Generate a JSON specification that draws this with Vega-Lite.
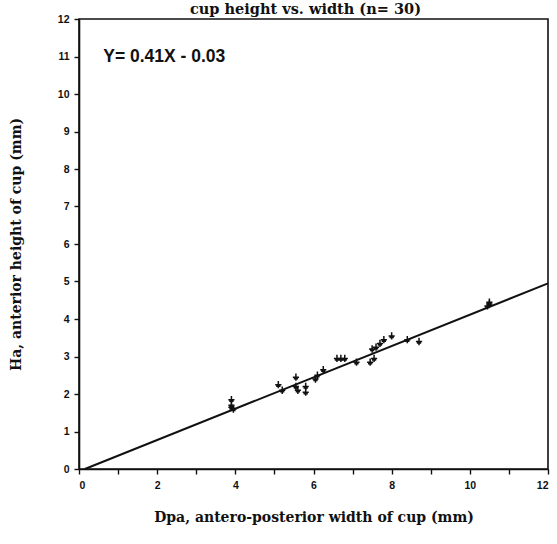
{
  "$schema": "https://vega.github.io/schema/vega-lite/v6.json",
  "width": 469,
  "height": 450,
  "autosize": {"type": "none"},
  "padding": {"left": 79, "top": 19, "right": 9, "bottom": 75},
  "background": "white",
  "title": {
    "text": "cup height vs. width (n= 30)",
    "font": "DejaVu Serif",
    "fontSize": 14.5,
    "fontWeight": "bold",
    "anchor": "middle",
    "dx": -8,
    "dy": 14.5,
    "offset": 0,
    "baseline": "alphabetic",
    "color": "#111"
  },
  "config": {
    "view": {"stroke": "#111", "strokeWidth": 1.6},
    "axis": {
      "grid": false,
      "domainColor": "#111",
      "domainWidth": 1.6,
      "tickColor": "#111",
      "tickWidth": 1.4,
      "tickSize": 5,
      "labelFont": "Liberation Sans",
      "labelFontWeight": "bold",
      "labelFontSize": 10.5,
      "labelColor": "#111",
      "labelOverlap": false,
      "titleFont": "DejaVu Serif",
      "titleFontWeight": "bold",
      "titleFontSize": 14,
      "titleColor": "#111"
    }
  },
  "encoding": {
    "x": {
      "field": "Dpa", "type": "quantitative",
      "scale": {"domain": [0, 12], "nice": false, "zero": true},
      "axis": {
        "title": "Dpa,  antero-posterior width of cup (mm)",
        "values": [0,1,2,3,4,5,6,7,8,9,10,11,12],
        "labelExpr": "datum.value % 2 == 0 ? datum.label : ''",
        "labelOverlap": false,
        "labelPadding": 6,
        "titlePadding": 20
      }
    },
    "y": {
      "field": "Ha", "type": "quantitative",
      "scale": {"domain": [0, 12], "nice": false},
      "axis": {
        "title": "Ha, anterior height of cup (mm)",
        "values": [0,1,2,3,4,5,6,7,8,9,10,11,12],
        "labelOverlap": false,
        "labelPadding": 5,
        "titlePadding": 34
      }
    }
  },
  "layer": [
    {
      "data": {"values": [
        {"Dpa": 3.9, "Ha": 1.85}, {"Dpa": 3.9, "Ha": 1.65}, {"Dpa": 3.95, "Ha": 1.6}, {"Dpa": 3.9, "Ha": 1.7},
        {"Dpa": 5.1, "Ha": 2.25}, {"Dpa": 5.2, "Ha": 2.1}, {"Dpa": 5.55, "Ha": 2.45}, {"Dpa": 5.55, "Ha": 2.2},
        {"Dpa": 5.6, "Ha": 2.1}, {"Dpa": 5.8, "Ha": 2.2}, {"Dpa": 5.8, "Ha": 2.05}, {"Dpa": 6.05, "Ha": 2.4},
        {"Dpa": 6.1, "Ha": 2.5}, {"Dpa": 6.25, "Ha": 2.65}, {"Dpa": 6.6, "Ha": 2.95}, {"Dpa": 6.7, "Ha": 2.95},
        {"Dpa": 6.8, "Ha": 2.95}, {"Dpa": 7.1, "Ha": 2.85}, {"Dpa": 7.45, "Ha": 2.85}, {"Dpa": 7.55, "Ha": 2.95},
        {"Dpa": 7.5, "Ha": 3.2}, {"Dpa": 7.6, "Ha": 3.25}, {"Dpa": 7.7, "Ha": 3.35}, {"Dpa": 7.8, "Ha": 3.45},
        {"Dpa": 8.0, "Ha": 3.55}, {"Dpa": 8.4, "Ha": 3.45}, {"Dpa": 8.7, "Ha": 3.4}, {"Dpa": 10.5, "Ha": 4.4},
        {"Dpa": 10.5, "Ha": 4.45}, {"Dpa": 10.45, "Ha": 4.35}
      ]},
      "mark": {"type": "point", "shape": "M-1,0H1M0,-1.2V1.2M-0.7,0.5H0.7", "size": 38, "stroke": "#111", "strokeWidth": 1.5, "filled": false, "opacity": 1}
    },
    {
      "data": {"values": [{"Dpa": 0.15, "Ha": 0}, {"Dpa": 12, "Ha": 4.95}]},
      "mark": {"type": "line", "color": "#111", "strokeWidth": 2}
    },
    {
      "data": {"values": [{"label": "Y= 0.41X - 0.03", "Dpa": 0.62, "Ha": 11}]},
      "mark": {"type": "text", "align": "left", "baseline": "middle", "font": "Liberation Sans", "fontWeight": "bold", "fontSize": 17.5, "color": "#111"},
      "encoding": {
        "text": {"field": "label"}
      }
    }
  ]
}
